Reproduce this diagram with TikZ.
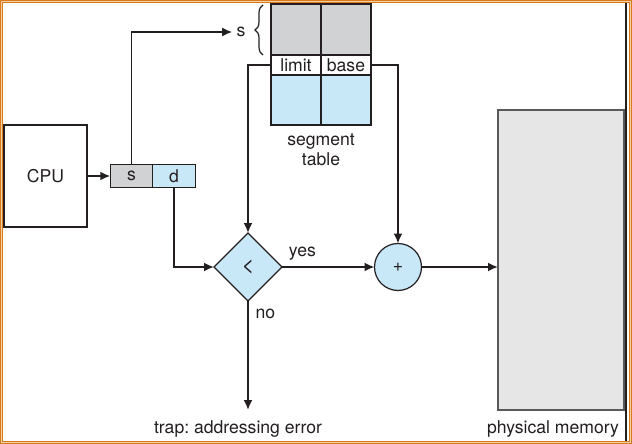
\documentclass[tikz,border=0pt]{standalone}
\usepackage{fontspec}
\setmainfont{TeX Gyre Heros}
\usetikzlibrary{arrows.meta, positioning, shapes.geometric, decorations.pathreplacing}
\definecolor{lineblack}{HTML}{231F20}
\definecolor{cellgray}{HTML}{D1D2D4}
\definecolor{cellblue}{HTML}{C8E8F8}
\definecolor{memgray}{HTML}{E6E6E6}
\definecolor{frameorange}{HTML}{D97A1E}
\definecolor{framelight}{HTML}{F6CFA0}
\frenchspacing

\begin{document}
\begin{tikzpicture}[x=0.5pt, y=-0.5pt, font=\fontsize{8.8}{10}\selectfont, text=lineblack,
	box/.style = {draw=lineblack, line width=0.6pt, outer sep=0pt, inner sep=0pt},
	gcell/.style = {box, fill=cellgray, minimum width=25pt, minimum height=25.5pt},
	lcell/.style = {box, fill=white, minimum width=25pt, minimum height=10pt},
	bcell/.style = {box, fill=cellblue, minimum width=25pt, minimum height=25pt},
	adr/.style = {box, minimum width=21.25pt, minimum height=11.5pt},
	arr/.style = {draw=lineblack, line width=0.9pt, -{Latex[length=5pt, width=4.5pt]}}]
	\useasboundingbox (0,0) rectangle (632,444);
	\node[box, minimum width=41.5pt, minimum height=51pt] (cpu) at (45.5,176) {CPU};
	\node[adr, fill=cellgray] (s) at (131.5,176) {s};
	\node[adr, fill=cellblue] (d) [right=0pt of s] {d};
	\node[gcell] (g1) at (296,29.5) {};
	\node[gcell] (g2) [right=0pt of g1] {};
	\node[lcell] (limit) [below=0pt of g1] {limit};
	\node[lcell] (base) [below=0pt of g2] {base};
	\node[bcell] (b1) [below=0pt of limit] {};
	\node[bcell] (b2) [below=0pt of base] {};
	\node[align=center] (segtab) at (321,150) {segment\\table};
	\node[inner sep=2pt] (sidx) at (241,32) {s};
	\draw[lineblack, line width=0.6pt, decorate, decoration={brace, amplitude=4pt}] (263,55) -- (263,5);
	\node[box, diamond, fill=cellblue, minimum size=34pt, font=\fontsize{11}{11}\selectfont] (cmp) at (248,267) {<};
	\node[box, circle, fill=cellblue, minimum size=23.5pt] (add) at (398,267) {+};
	\node[draw=gray!70!black, line width=0.6pt, fill=memgray, minimum width=63pt, minimum height=150pt, outer sep=0pt] (mem) at (561,260) {};
	\node (trap) at (238,429) {trap: addressing error};
	\node (phys) at (553,429) {physical memory};
	\coordinate (trapend) at (248,410);
	\path
	(cpu) edge[arr] (s)
	(cmp) edge[arr] node[pos=0, above right, inner sep=3pt] {yes} (add)
	(add.east) edge[arr] (add.east -| mem.west)
	(cmp.south) edge[arr] node[pos=0, below right] {no} (trapend);
	\draw[arr] (s.north) |- (sidx.west);
	\draw[arr] (limit.west) -| (cmp.north);
	\draw[arr] (base.east) -| (add.north);
	\draw[arr] (d.south) |- (cmp.west);
	\draw[frameorange, line width=1.5pt] (1.5,1.5) rectangle (630.5,442.5);
	\draw[framelight, line width=0.5pt] (1.5,1.5) rectangle (630.5,442.5);
	\draw[lineblack, line width=1pt] (626,3) -- (626,441);
\end{tikzpicture}
\end{document}
